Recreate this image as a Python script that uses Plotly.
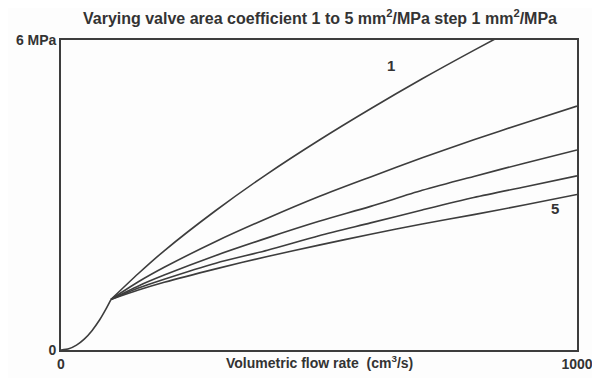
import plotly.graph_objects as go

# Initial common segment (fixed orifice region)
x_init = [0, 15, 30, 45, 60, 75, 87, 97]
p_init = [0.0, 0.023, 0.094, 0.21, 0.375, 0.585, 0.79, 0.98]

# Branches after the valve opens (common flow grid), valve area coefficient 1..5
x_branch = [97, 150, 200, 300, 400, 500, 600, 700, 800, 900, 1000]
p_k1 = [0.98, 1.48, 1.92, 2.70, 3.41, 4.06, 4.67, 5.25, 5.80, 6.33, 6.85]
p_k2 = [0.98, 1.32, 1.60, 2.10, 2.55, 2.97, 3.35, 3.72, 4.07, 4.40, 4.72]
p_k3 = [0.98, 1.24, 1.45, 1.83, 2.17, 2.49, 2.78, 3.09, 3.36, 3.62, 3.87]
p_k4 = [0.98, 1.20, 1.37, 1.68, 1.93, 2.21, 2.46, 2.71, 2.95, 3.16, 3.37]
p_k5 = [0.98, 1.16, 1.31, 1.57, 1.81, 2.03, 2.24, 2.44, 2.62, 2.81, 3.01]

x_ticks = [0, 1000]
x_ticktext = ["0", "1000"]
y_ticks = [0, 6]
y_ticktext = ["0", "6 MPa"]

line_color = "#3d3d3d"
text_color = "#333333"
font_family = "Liberation Sans, Arial, sans-serif"

fig = go.Figure()
fig.add_trace(go.Scatter(x=x_init, y=p_init, mode="lines",
                         line=dict(color=line_color, width=1.6, shape="spline", smoothing=0.6),
                         showlegend=False, hoverinfo="skip"))
for p in [p_k1, p_k2, p_k3, p_k4, p_k5]:
    fig.add_trace(go.Scatter(x=x_branch, y=p, mode="lines",
                             line=dict(color=line_color, width=1.6, shape="spline", smoothing=0.8),
                             showlegend=False, hoverinfo="skip"))

fig.add_annotation(x=640, y=5.50, text="1", showarrow=False,
                   font=dict(family=font_family, size=15, color=text_color, weight="bold"))
fig.add_annotation(x=957, y=2.73, text="5", showarrow=False,
                   font=dict(family=font_family, size=15, color=text_color, weight="bold"))
fig.add_annotation(x=0.5, xref="paper", y=-0.039, yref="paper", yanchor="middle",
                   text="Volumetric flow rate  (cm<sup>3</sup>/s)", showarrow=False,
                   font=dict(family=font_family, size=14, color=text_color, weight="bold"))

# The page body has an 8px default margin; size the figure so the plot lands
# at the same window position as the reference.
fig.update_layout(
    width=592, height=370,
    margin=dict(l=53, r=23, t=32, b=28, autoexpand=False),
    paper_bgcolor="#fdfdfd", plot_bgcolor="#fdfdfd",
    title=dict(text="Varying valve area coefficient 1 to 5 mm<sup>2</sup>/MPa step 1 mm<sup>2</sup>/MPa",
               x=0.527, xanchor="center", y=0.972, yanchor="middle", yref="container",
               automargin=False,
               font=dict(family=font_family, size=16, color=text_color, weight="bold")),
    xaxis=dict(range=[0, 1000], tickvals=x_ticks, ticktext=x_ticktext, ticks="",
               showgrid=False, zeroline=False, showline=True, mirror=True, automargin=False,
               linecolor=line_color, linewidth=1.6,
               tickfont=dict(family=font_family, size=14, color=text_color, weight="bold")),
    yaxis=dict(range=[0, 6], tickvals=y_ticks, ticktext=y_ticktext, ticks="",
               showgrid=False, zeroline=False, showline=True, mirror=True, automargin=False,
               linecolor=line_color, linewidth=1.6,
               tickfont=dict(family=font_family, size=14, color=text_color, weight="bold")),
)

fig.write_html("out.html")
